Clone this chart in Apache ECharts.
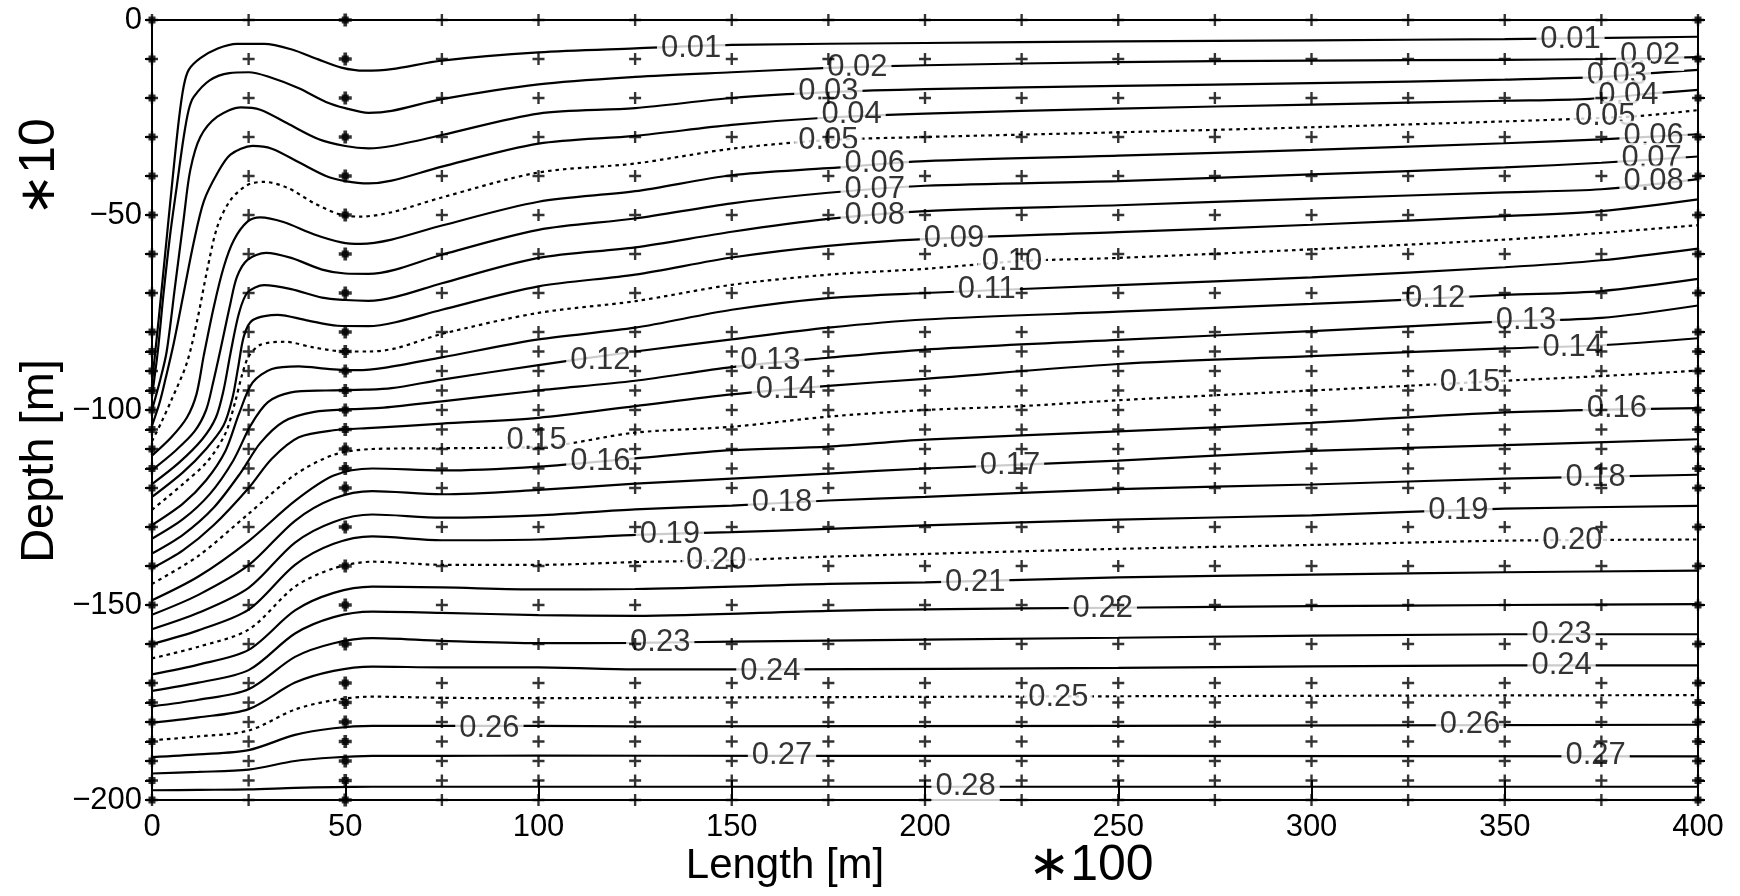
<!DOCTYPE html>
<html>
<head>
<meta charset="utf-8">
<script src="https://cdn.jsdelivr.net/npm/echarts@6/dist/echarts.min.js"></script>
<style>
  html, body { margin: 0; padding: 0; background: #fff; }
  #chart { width: 1740px; height: 896px; }
</style>
</head>
<body>
<div id="chart"></div>
<script>
// Contour levels and which of them are drawn dotted
const levels = [0.01,0.02,0.03,0.04,0.05,0.06,0.07,0.08,0.09,0.10,0.11,0.12,0.13,0.14,
                0.15,0.16,0.17,0.18,0.19,0.20,0.21,0.22,0.23,0.24,0.25,0.26,0.27,0.28];
const dottedLevels = [0.05, 0.10, 0.15, 0.20, 0.25];

// Computational grid nodes (length in units of 100 m, depth in units of 10 m)
const nodeLengths = [0,25,50,75,100,125,150,175,200,225,250,275,300,325,350,375,400];
const nodeDepths = [0,-10,-20,-30,-40,-50,-60,-70,-80,-85,-90,-95,-100,-105,-110,-115,-120,
                    -130,-140,-150,-160,-170,-175,-180,-185,-190,-195,-200];

// Axis tick labels
const lengthTicks = [0,50,100,150,200,250,300,350,400];
const depthTicks = [0,-50,-100,-150,-200];

// Contour lines: [length, depth] pairs
const c01 = [[0,-93],[1.7,-77],[3.4,-60],[5.1,-43],[6.9,-26],[8.2,-17],[9.5,-12.8],[12.5,-9.8],[17,-7.3],[22,-6.1],[29,-6.1],[36,-7.5],[43,-10.1],[49,-12.2],[55,-13],[62,-12.6],[75,-10.4],[100,-8.3],[125,-7.3],[150,-6.4],[200,-5.9],[250,-5.5],[300,-5.2],[350,-4.9],[400,-4.3]];
const c02 = [[0,-96.5],[1.5,-85],[3,-70],[4.7,-55],[6.4,-42.7],[8.2,-30],[9.5,-23],[10.8,-19.7],[15,-15.4],[20,-13.6],[25,-13.4],[30,-14.5],[38,-17.5],[45,-21],[50,-22.6],[56,-23.8],[62,-23.3],[75,-20.3],[100,-16.5],[125,-14.6],[150,-13.4],[175,-12.3],[200,-11.6],[250,-10.8],[300,-10.4],[350,-10.2],[375,-10],[400,-9.5]];
const c03 = [[0,-100],[2.2,-92],[3.8,-85],[6,-68],[8.2,-51],[9.9,-38.5],[12.5,-30],[16.9,-24.8],[23,-22.4],[28,-23],[35,-26.5],[43,-30.5],[50,-32.3],[56,-32.9],[62,-32.3],[75,-29.5],[100,-24],[125,-22.6],[150,-20],[175,-18.5],[200,-17.7],[250,-16.9],[300,-16.2],[350,-15.3],[375,-14.6],[390,-13.5],[400,-12.8]];
const c04 = [[0,-104],[2,-98],[3.5,-92],[5.6,-83],[8.2,-70],[10.8,-57],[13.4,-46.5],[16.9,-39.3],[20.3,-34.5],[26,-32.3],[31,-33],[38,-36.5],[45,-40],[50,-41.3],[56,-41.9],[62,-41.2],[75,-37.6],[100,-31.7],[125,-29.7],[150,-26.9],[175,-25],[200,-24],[250,-22.7],[300,-21.7],[350,-20.7],[372,-20.2],[390,-18.7],[400,-17.9]];
const c05 = [[0,-108],[2.5,-103],[5,-97.5],[9,-88],[11.7,-77],[14.3,-64],[16.9,-53],[20.3,-46.2],[24.7,-42.3],[29,-41.5],[35,-43],[42,-47],[49,-50],[54,-50.4],[62,-49.3],[75,-45.5],[100,-39.1],[125,-36.8],[150,-33],[175,-30.8],[200,-30],[250,-28.8],[300,-27.5],[350,-26],[370,-25.3],[385,-24.6],[400,-23.1]];
const c06 = [[0,-111.7],[5,-107],[9,-102],[11.5,-96],[13.4,-86],[16,-73.5],[18.6,-63.2],[21.2,-56.4],[24.7,-51.7],[28,-50.6],[34,-51.8],[42,-55],[49,-57],[54,-57.4],[62,-56.3],[75,-52.7],[100,-46.6],[125,-43.9],[150,-39.8],[175,-38],[200,-36.2],[250,-34.8],[300,-33.3],[350,-31.6],[375,-30.6],[400,-29.3]];
const c07 = [[0,-115.4],[6,-110.5],[11,-105.5],[14,-100],[15.8,-93],[17.7,-84.6],[20.3,-72.6],[22,-65.8],[24.7,-61.5],[29.5,-59.7],[36,-61],[44,-64],[50,-65],[56,-65.1],[63,-64],[75,-60.2],[100,-53.8],[125,-50.9],[150,-47],[175,-44.3],[200,-42.5],[250,-41.3],[300,-39.6],[350,-37.8],[375,-36.6],[400,-35]];
const c08 = [[0,-119],[7,-113.5],[13,-107.5],[16.5,-102],[18.5,-95],[20.3,-85.5],[22.5,-75.2],[24.7,-69.9],[29,-68],[36,-69],[44,-71.2],[50,-71.8],[56,-72],[63,-71],[75,-67.5],[100,-61],[125,-58.3],[150,-54.3],[175,-51],[200,-49],[250,-47.5],[300,-45.8],[350,-44.2],[375,-43.4],[400,-40.8]];
const c09 = [[0,-122.3],[8,-116],[14,-110],[18.5,-104],[20.8,-97],[22.3,-89],[23.8,-81],[26,-77],[32.5,-75.6],[40,-77],[48,-78.4],[56,-78.5],[63,-77.5],[75,-74.3],[100,-68.3],[125,-65.3],[150,-60.9],[175,-57.9],[200,-56.2],[250,-54.4],[300,-52.5],[350,-50.3],[375,-49],[400,-46]];
const c10 = [[0,-125.6],[8,-119],[14.5,-113],[19,-106],[21.5,-98],[23.3,-91],[25,-86.3],[28,-83.3],[34.3,-82.5],[42,-84],[50,-85],[56,-85],[63,-84.2],[75,-80.5],[100,-75.1],[125,-72.1],[150,-67.9],[175,-65.3],[200,-63.8],[225,-61.8],[250,-61],[300,-58.8],[350,-56.3],[375,-54.6],[400,-52.6]];
const c11 = [[0,-129.5],[8,-124],[14,-118],[19,-110.5],[22.5,-101],[26,-93],[31,-89.5],[38,-88.8],[46,-89.5],[53,-89.8],[60,-89.2],[75,-86.5],[100,-81.9],[125,-78.9],[150,-74.3],[175,-71.3],[200,-70],[250,-68],[300,-66],[350,-63.4],[375,-61.6],[400,-58.6]];
const c12 = [[0,-133],[8,-128],[15,-121.5],[21,-113],[25.5,-104],[30,-98],[36,-95.5],[45,-95],[55,-94.8],[62,-94.4],[75,-92.2],[100,-88.5],[125,-85],[150,-81.9],[175,-78.9],[200,-76.8],[250,-74.8],[300,-72.8],[325,-71.7],[350,-70.5],[375,-69.5],[400,-66.4]];
const c13 = [[0,-136.8],[8,-132],[16,-125],[23,-116],[28,-108.5],[34,-103],[42,-100.5],[52,-99.8],[60,-99.4],[75,-97.8],[100,-95],[125,-92.5],[150,-89],[175,-86.6],[200,-84.5],[250,-82],[300,-79.8],[350,-77.3],[375,-76.4],[400,-73.2]];
const c14 = [[0,-140.6],[8,-136],[16,-129.5],[25,-120],[31,-112.5],[38,-107],[47,-105.2],[57,-104.6],[75,-103.5],[100,-102],[125,-99],[150,-96],[175,-93.8],[200,-92],[250,-88.2],[300,-86.2],[350,-84.2],[375,-83.4],[400,-81.6]];
const c15 = [[0,-144.6],[12,-137.4],[25,-126.6],[37,-116.6],[47,-111.5],[57,-110],[75,-109.8],[100,-109.5],[125,-105.8],[150,-104.3],[175,-101.7],[200,-100],[225,-99],[250,-97.5],[300,-95],[325,-93.8],[350,-92.5],[375,-91.3],[400,-89.9]];
const c16 = [[0,-148.8],[12,-142.7],[25,-133.6],[37,-123.3],[47,-116.8],[57,-115],[75,-115.5],[100,-114.5],[125,-112.4],[150,-110.3],[175,-109.4],[200,-107.6],[250,-105.5],[300,-103.3],[350,-100.6],[400,-99.5]];
const c17 = [[0,-152.5],[12,-147.4],[25,-139.8],[37,-128.4],[47,-122.7],[57,-120.8],[75,-121.6],[100,-120.5],[125,-118.9],[150,-117.6],[175,-116.3],[200,-115],[250,-113],[300,-110.5],[350,-109],[400,-107.5]];
const c18 = [[0,-156.2],[12,-152],[25,-145.6],[37,-134],[47,-128.7],[57,-126.8],[75,-127.6],[100,-127],[125,-125.5],[150,-124.5],[175,-123.2],[200,-122.3],[250,-120.3],[300,-119.1],[350,-117.6],[400,-116.6]];
const c19 = [[0,-160],[12,-156.5],[25,-151.2],[37,-139.7],[47,-134.3],[57,-132.4],[75,-133.4],[100,-133.2],[125,-132],[150,-131.3],[175,-130.5],[200,-129.6],[250,-128.1],[300,-127],[350,-125.3],[400,-124.6]];
const c20 = [[0,-163.7],[12,-160.7],[25,-156.3],[37,-145.3],[47,-140.6],[57,-138.9],[75,-139.7],[100,-139.7],[125,-139],[150,-138.5],[175,-137.6],[200,-136.9],[250,-135.6],[300,-134.6],[350,-133.5],[400,-133.2]];
const c21 = [[0,-167.8],[12,-165.3],[25,-161.5],[37,-151.4],[47,-146.9],[57,-145.3],[75,-145.5],[100,-146],[125,-145.9],[175,-144.6],[200,-144.2],[250,-142.9],[300,-142.2],[350,-141.6],[400,-141.2]];
const c22 = [[0,-172],[12,-169.9],[25,-166.7],[37,-157.3],[47,-153.1],[57,-151.7],[75,-152],[100,-152.6],[125,-152.8],[175,-151.5],[200,-151.1],[250,-150.7],[300,-150.3],[350,-150],[400,-149.8]];
const c23 = [[0,-176],[12,-174.3],[25,-171.6],[37,-163.3],[47,-159.8],[57,-158.5],[75,-159.2],[100,-159.8],[125,-159.7],[150,-159.4],[250,-158.4],[350,-157.5],[400,-157.5]];
const c24 = [[0,-180.2],[12,-178.8],[25,-176.7],[37,-169.9],[47,-166.9],[57,-165.8],[75,-166],[100,-166],[125,-166.5],[160,-166.5],[250,-166.1],[350,-165.5],[400,-165.5]];
const c25 = [[0,-184.7],[12,-183.7],[25,-182.2],[37,-176.8],[47,-174.4],[57,-173.5],[75,-173.8],[100,-173.9],[125,-173.8],[250,-173.4],[400,-173.1]];
const c26 = [[0,-189],[12,-188.3],[25,-187.2],[37,-183.3],[47,-181.6],[57,-181],[75,-181],[100,-181],[125,-181.1],[250,-181],[400,-180.7]];
const c27 = [[0,-193.2],[12,-192.8],[25,-192.2],[37,-190],[47,-189.1],[57,-188.7],[75,-188.7],[100,-188.6],[163,-188.7],[250,-188.7],[400,-188.8]];
const c28 = [[0,-197.5],[12,-197.4],[25,-197.3],[37,-196.9],[47,-196.7],[57,-196.6],[75,-196.6],[100,-196.6],[210,-196.6],[400,-196.6]];
const contourLines = [c01,c02,c03,c04,c05,c06,c07,c08,c09,c10,c11,c12,c13,c14,
                      c15,c16,c17,c18,c19,c20,c21,c22,c23,c24,c25,c26,c27,c28];

// In-line contour labels: level, and where along the line it sits
const labelLevels = [0.01,0.01,0.02,0.02,0.03,0.03,0.04,0.04,0.05,0.05,0.06,0.06,0.07,0.07,0.08,0.08,
                     0.09,0.10,0.11,0.12,0.12,0.13,0.13,0.14,0.14,0.15,0.15,0.16,0.16,0.17,0.18,0.18,
                     0.19,0.19,0.20,0.20,0.21,0.22,0.23,0.23,0.24,0.24,0.25,0.26,0.26,0.27,0.27,0.28];
const labelLengths = [139.5,367,182.5,387.6,175,379,181,382,175,376,187,388.5,187,388,187,388.5,
                      207.5,222.5,216,116,332,160,355.5,164,367.6,99.5,341,116,379,222,163,373.5,
                      134,338,146,367.5,213,246,131.5,364.7,160,364.7,234.5,87.3,341,163,373.5,210.5];
const labelDepths = [-7.4,-4.9,-12.1,-9.1,-18.3,-14.3,-24.3,-19.4,-30.9,-24.7,-36.8,-29.8,-43.4,-35.5,-50,-41.3,
                     -56,-61.9,-69.1,-87.4,-71.5,-87.4,-77,-94.7,-84,-107.8,-93,-113.3,-99.6,-114.2,-123.6,-117.2,
                     -131.8,-125.8,-138.6,-133.5,-144.2,-150.8,-159.7,-157.5,-167,-165.5,-173.6,-181.6,-180.7,-188.7,-188.7,-196.6];

const FONT = '"Liberation Sans", "DejaVu Sans", Arial, sans-serif';
const INK = '#000';

const PLUS = 'path://M-1.2,-6L1.2,-6L1.2,-1.2L6,-1.2L6,1.2L1.2,1.2L1.2,6L-1.2,6L-1.2,1.2L-6,1.2L-6,-1.2L-1.2,-1.2Z';
const PLUS_BOLD = 'path://M-1.7,-6L1.7,-6L1.7,-1.7L6,-1.7L6,1.7L1.7,1.7L1.7,6L-1.7,6L-1.7,1.7L-6,1.7L-6,-1.7L-1.7,-1.7Z';

const chart = echarts.init(document.getElementById('chart'), null, { renderer: 'canvas' });

const series = [];

contourLines.forEach((pts, i) => {
  const dotted = dottedLevels.includes(levels[i]);
  series.push({
    type: 'line',
    name: levels[i].toFixed(2),
    data: pts,
    smooth: 0.3,
    symbol: 'none',
    silent: true,
    z: 2,
    lineStyle: { color: INK, width: 2.2, type: dotted ? [3.5, 4] : 'solid' }
  });
});

// contour labels
series.push({
  type: 'scatter',
  data: labelLevels.map((lv, i) => [labelLengths[i], labelDepths[i], lv]),
  symbol: 'rect',
  symbolSize: 1,
  itemStyle: { color: 'rgba(0,0,0,0)' },
  silent: true,
  z: 3,
  label: {
    show: true,
    position: 'inside',
    formatter: p => p.value[2].toFixed(2),
    color: INK,
    fontFamily: FONT,
    fontSize: 31,
    backgroundColor: '#fff',
    padding: [0, 4]
  }
});

// grid nodes
const plainNodes = [], boldNodes = [], edgeNodes = [];
nodeLengths.forEach(x => {
  nodeDepths.forEach(d => {
    if (x === 0 || x === 400) edgeNodes.push([x, d]);
    else if (x === 50) boldNodes.push([x, d]);
    else plainNodes.push([x, d]);
  });
});
series.push({
  type: 'scatter', data: plainNodes.concat(edgeNodes), symbol: PLUS, symbolSize: 12,
  itemStyle: { color: INK }, silent: true, z: 4
});
series.push({
  type: 'scatter', data: boldNodes, symbol: PLUS_BOLD, symbolSize: 13,
  itemStyle: { color: INK }, silent: true, z: 4
});
series.push({
  type: 'scatter', data: boldNodes.concat(edgeNodes), symbol: 'rect', symbolSize: [7, 7],
  itemStyle: { color: INK }, silent: true, z: 4
});

const option = {
  animation: false,
  backgroundColor: '#fff',
  grid: { left: 152, right: 42, top: 20, bottom: 96, show: true, borderColor: INK, borderWidth: 2, backgroundColor: 'transparent' },
  xAxis: {
    type: 'value', min: 0, max: 400, interval: 50,
    axisLine: { show: true, onZero: false, lineStyle: { color: INK, width: 2 } },
    axisTick: { show: true, inside: true, length: 20, lineStyle: { color: INK, width: 2 } },
    axisLabel: { show: true, customValues: lengthTicks, color: INK, fontFamily: FONT, fontSize: 31, margin: 12 },
    splitLine: { show: false }
  },
  yAxis: [{
    type: 'value', min: -200, max: 0, interval: 50, position: 'left',
    axisLine: { show: true, onZero: false, lineStyle: { color: INK, width: 2 } },
    axisTick: { show: true, customValues: nodeDepths, length: 7, lineStyle: { color: INK, width: 2 } },
    axisLabel: {
      show: true, customValues: depthTicks, color: INK, fontFamily: FONT, fontSize: 31, margin: 10,
      formatter: v => v === 0 ? '0' : '\u2212' + Math.abs(v)
    },
    splitLine: { show: false }
  }, {
    type: 'value', min: -200, max: 0, interval: 50, position: 'right',
    axisLine: { show: true, onZero: false, lineStyle: { color: INK, width: 2 } },
    axisTick: { show: true, customValues: nodeDepths, length: 7, lineStyle: { color: INK, width: 2 } },
    axisLabel: { show: false },
    splitLine: { show: false }
  }],
  graphic: [
    { type: 'text', x: 40, y: 461, rotation: Math.PI / 2,
      style: { text: 'Depth [m]', fontFamily: FONT, fontSize: 47, fill: INK, align: 'center', verticalAlign: 'middle' } },
    { type: 'text', x: 40, y: 167, rotation: Math.PI / 2,
      style: { text: '\u221710', fontFamily: FONT, fontSize: 50, fill: INK, align: 'center', verticalAlign: 'middle' } },
    { type: 'text', x: 785, y: 866,
      style: { text: 'Length [m]', fontFamily: FONT, fontSize: 42, fill: INK, align: 'center', verticalAlign: 'middle' } },
    { type: 'text', x: 1091, y: 866,
      style: { text: '\u2217100', fontFamily: FONT, fontSize: 50, fill: INK, align: 'center', verticalAlign: 'middle' } }
  ],
  series: series
};

chart.setOption(option);
</script>
</body>
</html>
